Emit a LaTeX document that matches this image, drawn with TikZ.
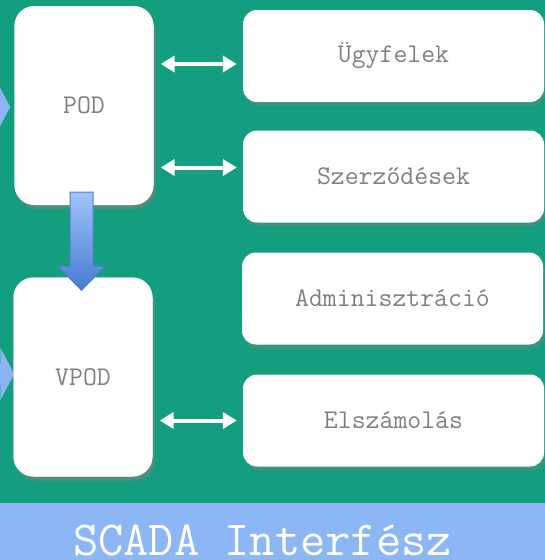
\documentclass[tikz,border=0pt]{standalone}
\usetikzlibrary{shapes,arrows.meta,shadows}
\definecolor{bggreen}{RGB}{20,158,128}
\definecolor{bandblue}{RGB}{141,182,245}
\definecolor{boxgray}{RGB}{128,128,128}
\definecolor{arrowtop}{RGB}{160,196,248}
\definecolor{arrowbot}{RGB}{70,124,208}
\definecolor{arrowline}{RGB}{80,128,200}
\definecolor{inblue}{RGB}{141,180,242}
\tikzset{
  podbox/.style={rectangle, fill=white, rounded corners=20pt, minimum width=139pt, minimum height=199pt,
    font=\fontsize{27}{30}\selectfont\ttfamily, text=boxgray,
    drop shadow={shadow xshift=2pt, shadow yshift=-4pt, opacity=.35}},
  databox/.style={rectangle, fill=white, rounded corners=14pt, minimum width=301pt, minimum height=92pt,
    font=\fontsize{27}{30}\selectfont\ttfamily, text=boxgray,
    drop shadow={shadow xshift=2pt, shadow yshift=-4pt, opacity=.35}},
  biarrow/.style={draw=white, line width=4pt, {Triangle[width=16pt,length=14pt]}-{Triangle[width=16pt,length=14pt]}},
  inarrow/.style={draw=inblue, line width=20pt, -{Triangle[width=52pt,length=14pt]}},
  downarrow/.style={top color=arrowtop, bottom color=arrowbot, draw=arrowline, line width=1pt}
}
\begin{document}
\begin{tikzpicture}[x=1pt, y=-1pt]
\useasboundingbox (0,0) rectangle (545,560);
\clip (0,0) rectangle (545,560);
\fill[bggreen] (0,0) rectangle (545,503);
\fill[bandblue] (0,503) rectangle (545,560);

\coordinate (podin) at (-40,107);
\coordinate (vpodin) at (-40,374);
\node[podbox] (pod) at (84,105.5) {};
\node[podbox] (vpod) at (83,377) {};
\draw[inarrow, shorten >=4pt] (podin) -- (podin -| pod.west);
\draw[inarrow, shorten >=-1pt] (vpodin) -- (vpodin -| vpod.west);
\node[podbox] (pod) at (84,105.5) {POD};
\node[podbox] (vpod) at (83,377) {VPOD};

\node[databox] (ugy) at (393.5,56) {Ügyfelek};
\node[databox] (szer) at (393.5,176.5) {Szerződések};
\node[databox] (adm) at (392.5,298.5) {Adminisztráció};
\node[databox] (elsz) at (393.5,420.5) {Elszámolás};

\coordinate (a1) at ([yshift=-8pt]ugy.west);
\coordinate (a2) at ([yshift=9pt]szer.west);
\coordinate (a3) at (elsz.west);
\draw[biarrow, shorten <=7pt, shorten >=6pt] (a1 -| pod.east) -- (a1);
\draw[biarrow, shorten <=7pt, shorten >=6pt] (a2 -| pod.east) -- (a2);
\draw[biarrow, shorten <=7pt, shorten >=6pt] (a3 -| vpod.east) -- (a3);

\shade[downarrow] ([xshift=-14pt,yshift=13pt]pod.south) -- ([xshift=9pt,yshift=13pt]pod.south)
  -- ([xshift=10pt,yshift=11pt]vpod.north) -- ([xshift=22pt,yshift=11pt]vpod.north)
  -- ([xshift=-1.5pt,yshift=-13pt]vpod.north) -- ([xshift=-25pt,yshift=11pt]vpod.north)
  -- ([xshift=-13pt,yshift=11pt]vpod.north) -- cycle;

\node[anchor=base, inner sep=0pt, text=white, font=\fontsize{49}{52}\selectfont\ttfamily] (scada) at (262.5,555) {SCADA Interfész};
\end{tikzpicture}
\end{document}
